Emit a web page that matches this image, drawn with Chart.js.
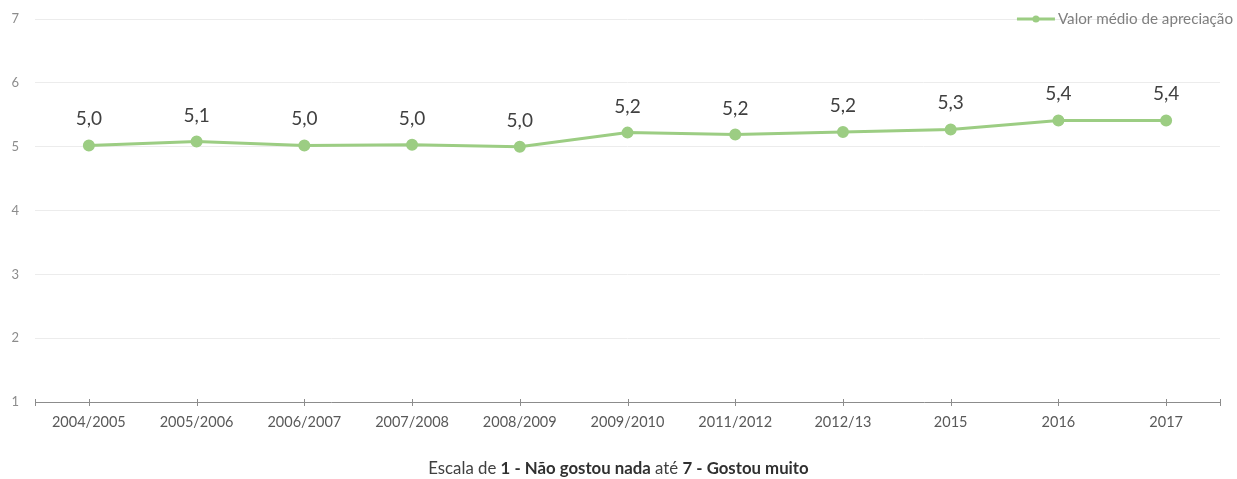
<!DOCTYPE html>
<html>
<head>
<meta charset="utf-8">
<script src="https://cdn.jsdelivr.net/npm/chart.js@4/dist/chart.umd.min.js"></script>
<style>
  html, body { margin: 0; padding: 0; background: #ffffff; }
  #wrap { position: relative; width: 1237px; height: 479px; }
  #c { display: block; }
  #note {
    position: absolute; left: 0; top: 457px; width: 1237px;
    text-align: center; font: 16.8px Lato, sans-serif; color: #404040;
  }
  #note b { font-weight: 700; color: #303030; }
</style>
</head>
<body>
<div id="wrap">
  <canvas id="c" width="1237" height="479"></canvas>
  <div id="note">Escala de <b>1 - Não gostou nada</b> até <b>7 - Gostou muito</b></div>
</div>
<script>
// Survey years
const categories = ['2004/2005', '2005/2006', '2006/2007', '2007/2008', '2008/2009',
                    '2009/2010', '2011/2012', '2012/13', '2015', '2016', '2017'];
// Mean appreciation score per year (scale 1-7)
const meanScores = [5.02, 5.08, 5.02, 5.03, 5.00, 5.22, 5.19, 5.23, 5.27, 5.41, 5.41];
const yTicks = [1, 2, 3, 4, 5, 6, 7];
const seriesLabel = 'Valor médio de apreciação';

const GREEN = '#9ccd83';
const FONT = 'Lato, "Open Sans", sans-serif';

// Value labels above each point, comma as decimal separator
const valueLabels = {
  id: 'valueLabels',
  afterDatasetsDraw(chart) {
    const { ctx } = chart;
    const meta = chart.getDatasetMeta(0);
    const data = chart.data.datasets[0].data;
    ctx.save();
    ctx.font = '19px ' + FONT;
    ctx.fillStyle = '#404040';
    ctx.textAlign = 'center';
    ctx.textBaseline = 'alphabetic';
    meta.data.forEach((pt, i) => {
      ctx.fillText(data[i].toFixed(1).replace('.', ','), pt.x, pt.y - 20);
    });
    ctx.restore();
  }
};

// Tick marks crossing the category axis, including both ends
const axisTicks = {
  id: 'axisTicks',
  afterDraw(chart) {
    const { ctx, chartArea } = chart;
    const xs = chart.scales.x;
    const y = chartArea.bottom;
    const positions = xs.ticks.map((t, i) => xs.getPixelForTick(i));
    positions.push(chartArea.left, chartArea.right);
    ctx.save();
    ctx.strokeStyle = '#8c8c8c';
    ctx.lineWidth = 1;
    positions.forEach(x => {
      const px = Math.round(x) + 0.5;
      ctx.beginPath();
      ctx.moveTo(px, y - 3);
      ctx.lineTo(px, y + 4);
      ctx.stroke();
    });
    ctx.restore();
  }
};

// Legend entry in the top-right corner
const cornerLegend = {
  id: 'cornerLegend',
  afterDraw(chart) {
    const { ctx, chartArea } = chart;
    const ds = chart.data.datasets[0];
    ctx.save();
    ctx.font = '15.2px ' + FONT;
    const w = ctx.measureText(ds.label).width;
    const textRight = chartArea.right + 13;
    const textLeft = textRight - w;
    const y = chartArea.top;
    const lineRight = textLeft - 3;
    const lineLeft = lineRight - 38;
    ctx.strokeStyle = ds.borderColor;
    ctx.lineWidth = 3;
    ctx.beginPath();
    ctx.moveTo(lineLeft, y);
    ctx.lineTo(lineRight, y);
    ctx.stroke();
    ctx.fillStyle = ds.pointBackgroundColor;
    ctx.beginPath();
    ctx.arc((lineLeft + lineRight) / 2, y, 3.5, 0, Math.PI * 2);
    ctx.fill();
    ctx.fillStyle = '#7f7f7f';
    ctx.textAlign = 'left';
    ctx.textBaseline = 'middle';
    ctx.fillText(ds.label, textLeft, y);
    ctx.restore();
  }
};

new Chart(document.getElementById('c'), {
  type: 'line',
  data: {
    labels: categories,
    datasets: [{
      label: seriesLabel,
      data: meanScores,
      borderColor: GREEN,
      backgroundColor: GREEN,
      pointBackgroundColor: GREEN,
      pointBorderColor: GREEN,
      borderWidth: 3,
      pointRadius: 4.5,
      tension: 0,
      fill: false
    }]
  },
  options: {
    responsive: false,
    animation: false,
    layout: { padding: { top: 19, right: 17, left: 0, bottom: 0 } },
    plugins: {
      legend: { display: false },
      tooltip: { enabled: false }
    },
    scales: {
      x: {
        offset: true,
        grid: { display: false, offset: false, drawTicks: false },
        border: { display: true, color: '#8c8c8c', width: 1 },
        ticks: {
          color: '#595959',
          font: { family: FONT, size: 14.5 },
          padding: 12,
          maxRotation: 0,
          autoSkip: false
        },
        afterFit(scale) { scale.height = 77; }
      },
      y: {
        min: 1,
        max: 7,
        afterBuildTicks(scale) { scale.ticks = yTicks.map(v => ({ value: v })); },
        grid: { color: '#ececec', lineWidth: 1, drawTicks: false },
        border: { display: false },
        ticks: {
          color: '#8c8c8c',
          font: { family: FONT, size: 13, lineHeight: 1 },
          padding: 16
        },
        afterFit(scale) {
          scale.width = 35;
          scale.paddingTop = 0;
          scale.paddingBottom = 0;
        }
      }
    }
  },
  plugins: [valueLabels, axisTicks, cornerLegend]
});
</script>
</body>
</html>
